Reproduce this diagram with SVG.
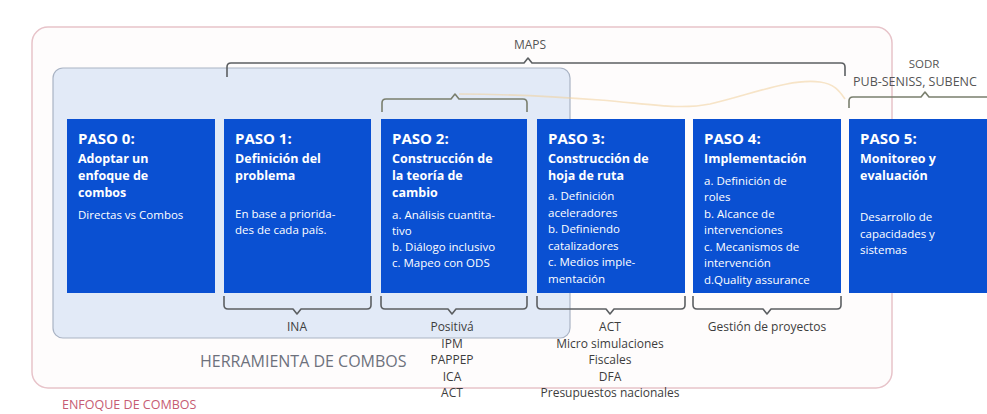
<svg xmlns="http://www.w3.org/2000/svg" width="987" height="414" viewBox="0 0 987 414">
<style>
text{font-family:"Open Sans","Noto Sans",sans-serif}
.box{fill:#0a50d2}
.w{fill:#ffffff}
.ti{font-size:15px;font-weight:700}
.st{font-size:12.5px;font-weight:700}
.bd{font-size:11.5px}
.lbl{font-size:12px;fill:#3d3d3d;text-anchor:middle}
.br{fill:none;stroke:#5c5f62;stroke-width:1.6;stroke-linejoin:round}
.brg{fill:none;stroke:#7a7f6e;stroke-width:1.6;stroke-linejoin:round}
</style>
<rect x="0" y="0" width="987" height="414" fill="#ffffff"/>
<g id="enfoque">
<rect x="32" y="27" width="860" height="361" rx="16" fill="#fefcfc" stroke="#e7c3c9" stroke-width="1.5"/>
<text x="62" y="409" font-size="12.5" fill="#c65b72">ENFOQUE DE COMBOS</text>
</g>
<g id="herramienta">
<rect x="53" y="68" width="517" height="270" rx="10" fill="#e2eaf7" stroke="#a9b3c4" stroke-width="1.2"/>
<text x="200" y="367" font-size="16" fill="#6d717c">HERRAMIENTA DE COMBOS</text>
</g>
<g id="connectors">
<path class="br" d="M227 77 V67 Q227 63 231 63 H524 L528 58 L532 63 H841 Q845 63 845 67 V76"/>
<path class="brg" d="M382 112 V103 Q382 99 386 99 H451 L455 94 L459 99 H523 Q527 99 527 103 V112"/>
<path class="brg" d="M849 108 V101 Q849 97 853 97 H921 L925 92 L929 97 H990"/>
<path d="M459 94 C520 94 560 97 600 100 C650 104 680 110 710 104 C750 95 790 78 820 82 C835 84 840 92 845 99" fill="none" stroke="#f1cf9a" stroke-width="1.6" opacity="0.55"/>
<path class="br" d="M224 296 V305 Q224 309 228 309 H293 L297 314 L301 309 H367 Q371 309 371 305 V296"/>
<path class="br" d="M381 296 V305 Q381 309 385 309 H448 L452 314 L456 309 H523 Q527 309 527 305 V296"/>
<path class="br" d="M537 296 V305 Q537 309 541 309 H606 L610 314 L614 309 H681 Q685 309 685 305 V296"/>
<path class="br" d="M693 296 V305 Q693 309 697 309 H763 L767 314 L771 309 H837 Q841 309 841 305 V296"/>
</g>
<g id="labels">
<text x="530" y="49" font-size="12" fill="#555" text-anchor="middle">MAPS</text>
<text x="924" y="68" font-size="11.5" fill="#555" text-anchor="middle">SODR</text>
<text x="853" y="86" font-size="12.5" fill="#555">PUB-SENISS, SUBENC</text>
<text class="lbl" x="297" y="331">INA</text>
<text class="lbl" x="452" y="331">Positivá</text>
<text class="lbl" x="452" y="347.5">IPM</text>
<text class="lbl" x="452" y="364">PAPPEP</text>
<text class="lbl" x="452" y="380.5">ICA</text>
<text class="lbl" x="452" y="397">ACT</text>
<text class="lbl" x="610" y="331">ACT</text>
<text class="lbl" x="610" y="347.5">Micro simulaciones</text>
<text class="lbl" x="610" y="364">Fiscales</text>
<text class="lbl" x="610" y="380.5">DFA</text>
<text class="lbl" x="610" y="397">Presupuestos nacionales</text>
<text class="lbl" x="767" y="331">Gestión de proyectos</text>
</g>
<g id="paso0">
<rect class="box" x="67" y="119" width="148" height="174"/>
<text class="w ti" x="78" y="144">PASO 0:</text>
<text class="w st" x="78" y="163">Adoptar un</text>
<text class="w st" x="78" y="180">enfoque de</text>
<text class="w st" x="78" y="197">combos</text>
<text class="w bd" x="78" y="219">Directas vs Combos</text>
</g>
<g id="paso1">
<rect class="box" x="224" y="119" width="147" height="174"/>
<text class="w ti" x="235" y="144">PASO 1:</text>
<text class="w st" x="235" y="163">Definición del</text>
<text class="w st" x="235" y="180">problema</text>
<text class="w bd" x="235" y="218">En base a priorida-</text>
<text class="w bd" x="235" y="234">des de cada país.</text>
</g>
<g id="paso2">
<rect class="box" x="381" y="119" width="146" height="174"/>
<text class="w ti" x="392" y="144">PASO 2:</text>
<text class="w st" x="392" y="163">Construcción de</text>
<text class="w st" x="392" y="180">la teoría de</text>
<text class="w st" x="392" y="197">cambio</text>
<text class="w bd" x="392" y="219">a. Análisis cuantita-</text>
<text class="w bd" x="392" y="235">tivo</text>
<text class="w bd" x="392" y="251">b. Diálogo inclusivo</text>
<text class="w bd" x="392" y="267">c. Mapeo con ODS</text>
</g>
<g id="paso3">
<rect class="box" x="537" y="119" width="148" height="174"/>
<text class="w ti" x="548" y="144">PASO 3:</text>
<text class="w st" x="548" y="163">Construcción de</text>
<text class="w st" x="548" y="180">hoja de ruta</text>
<text class="w bd" x="548" y="200">a. Definición</text>
<text class="w bd" x="548" y="216.5">aceleradores</text>
<text class="w bd" x="548" y="233">b. Definiendo</text>
<text class="w bd" x="548" y="249.5">catalizadores</text>
<text class="w bd" x="548" y="266">c. Medios imple-</text>
<text class="w bd" x="548" y="282.5">mentación</text>
</g>
<g id="paso4">
<rect class="box" x="693" y="119" width="148" height="174"/>
<text class="w ti" x="704" y="144">PASO 4:</text>
<text class="w st" x="704" y="163">Implementación</text>
<text class="w bd" x="704" y="184.5">a. Definición de</text>
<text class="w bd" x="704" y="201">roles</text>
<text class="w bd" x="704" y="217.5">b. Alcance de</text>
<text class="w bd" x="704" y="234">intervenciones</text>
<text class="w bd" x="704" y="250.5">c. Mecanismos de</text>
<text class="w bd" x="704" y="267">intervención</text>
<text class="w bd" x="704" y="283.5">d.Quality assurance</text>
</g>
<g id="paso5">
<rect class="box" x="849" y="119" width="140" height="174"/>
<text class="w ti" x="860" y="144">PASO 5:</text>
<text class="w st" x="860" y="163">Monitoreo y</text>
<text class="w st" x="860" y="180">evaluación</text>
<text class="w bd" x="860" y="221">Desarrollo de</text>
<text class="w bd" x="860" y="237.5">capacidades y</text>
<text class="w bd" x="860" y="254">sistemas</text>
</g>
</svg>
